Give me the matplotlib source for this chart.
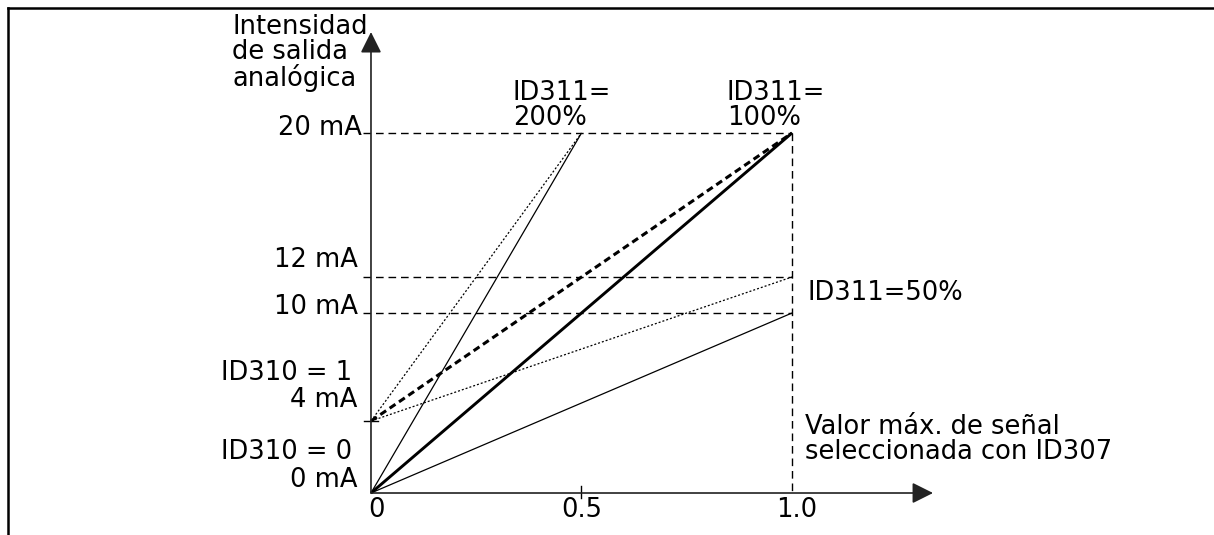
import matplotlib
matplotlib.use('Agg')
import matplotlib.pyplot as plt

# current levels on the y axis (mA) and their labels
level_ma = [0, 4, 10, 12, 20]
level_labels = ['0 mA', '4 mA', '10 mA', '12 mA', '20 mA']
guide_ma = [10, 12, 20]          # dashed helper lines

# x axis ticks (signal relative to max value)
x_ticks = [0, 0.5, 1.0]
x_tick_labels = ['0', '0.5', '1.0']

# one line per ID311 gain, end points of each line
gain_names = ['200%', '100%', '50%']
x_end = [0.5, 1.0, 1.0]
y_end_id310_0 = [20, 20, 10]     # start at 0 mA
y_end_id310_1 = [20, 20, 12]     # start at 4 mA
y_start = [0, 4]

fig = plt.figure(figsize=(12.14, 5.35), dpi=100)
ax = fig.add_axes([0, 0, 1, 1])
ax.set_xlim(-0.8812, 2.0024)
ax.set_ylim(-2.333, 27.39)
ax.axis('off')

fs = 18.5
lsp = 0.95

# frame
ax.plot([-0.862, 2.1], [26.94, 26.94], color='black', lw=1.8, clip_on=False)
ax.plot([-0.862, -0.862], [26.94, -3], color='black', lw=1.8, clip_on=False)

# axes with arrows
ax.annotate('', xy=(0, 25.61), xytext=(0, 0),
            arrowprops=dict(arrowstyle='-|>', mutation_scale=32, lw=1.2,
                            color='#222222', shrinkA=0, shrinkB=0))
ax.annotate('', xy=(1.335, 0), xytext=(0, 0),
            arrowprops=dict(arrowstyle='-|>', mutation_scale=32, lw=1.2,
                            color='#222222', shrinkA=0, shrinkB=0))

# dashed guides
for m in guide_ma:
    ax.plot([-0.02, 1.0], [m, m], color='black', lw=1.0, dashes=(5.5, 3.5))
ax.plot([1.0, 1.0], [20, 0], color='black', lw=1.0, dashes=(5.5, 3.5))

# small ticks
ax.plot([-0.017, 0.017], [4, 4], color='black', lw=1.0)
ax.plot([0.5, 0.5], [0.4, -0.3], color='black', lw=1.0)

# ID310 = 0 lines (start at 0 mA)
styles0 = [dict(lw=0.9, ls='-'), dict(lw=2.1, ls='-'), dict(lw=0.9, ls='-')]
for i in range(len(gain_names)):
    ax.plot([0, x_end[i]], [y_start[0], y_end_id310_0[i]], color='black',
            solid_capstyle='butt', **styles0[i])

# ID310 = 1 lines (start at 4 mA)
styles1 = [dict(lw=0.9, dashes=(1.6, 1.6)), dict(lw=2.2, dashes=(2.3, 1.4)),
           dict(lw=0.9, dashes=(1.6, 1.6))]
for i in range(len(gain_names)):
    ax.plot([0, x_end[i]], [y_start[1], y_end_id310_1[i]], color='black',
            **styles1[i])

# y labels
ypos = {0: 0.33, 4: 4.78, 10: 9.94, 12: 12.56, 20: 19.9}
xpos = {0: -0.033, 4: -0.033, 10: -0.031, 12: -0.031, 20: -0.021}
for m, lab in zip(level_ma, level_labels):
    ax.text(xpos[m], ypos[m], lab, fontsize=fs, ha='right', va='baseline')
ax.text(-0.045, 6.28, 'ID310 = 1', fontsize=fs, ha='right', va='baseline')
ax.text(-0.045, 1.89, 'ID310 = 0', fontsize=fs, ha='right', va='baseline')

# x labels
for x, lab in zip(x_ticks, x_tick_labels):
    ax.text(x + (0.014 if x == 0 else 0.012 if x == 1.0 else 0), -1.33, lab,
            fontsize=fs, ha='center', va='baseline')

# annotations (baseline = last line)
ax.text(-0.330, 22.61, 'Intensidad\nde salida\nanalógica', fontsize=fs,
        ha='left', va='baseline', linespacing=lsp)
ax.text(0.337, 20.44, 'ID311=\n' + gain_names[0], fontsize=fs, ha='left',
        va='baseline', linespacing=lsp)
ax.text(0.845, 20.44, 'ID311=\n' + gain_names[1], fontsize=fs, ha='left',
        va='baseline', linespacing=lsp)
ax.text(1.036, 10.72, 'ID311=' + gain_names[2], fontsize=fs, ha='left',
        va='baseline')
ax.text(1.031, 1.89, 'Valor máx. de señal\nseleccionada con ID307',
        fontsize=fs, ha='left', va='baseline', linespacing=lsp)

fig.savefig('out.png', dpi=100)
